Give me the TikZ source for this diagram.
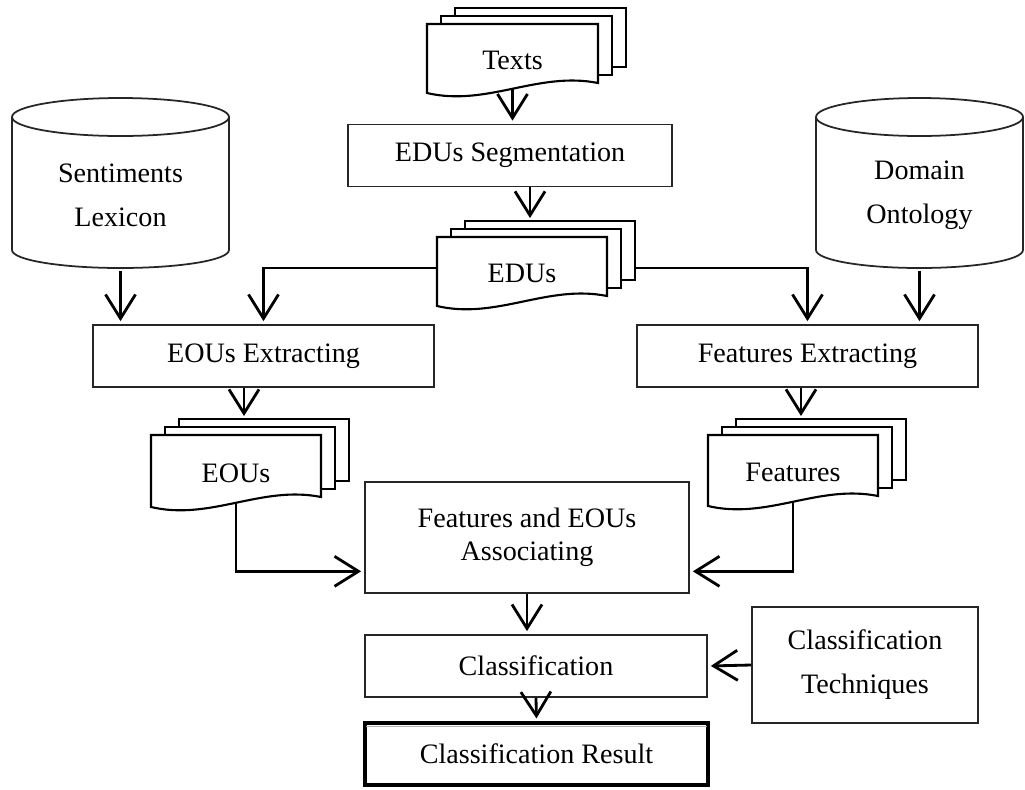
\documentclass[tikz,border=0pt]{standalone}
\usepackage{fontspec}
\setmainfont{Liberation Serif}
\usetikzlibrary{arrows.meta, calc}
\tikzset{
	box/.style      ={rectangle, draw=black!85, line width=1pt, fill=white, align=center, inner sep=2pt},
	resultbox/.style={box, draw=black, line width=1.8pt},
	sheet/.style    ={draw=black, line width=1.2pt, fill=white},
	dbline/.style   ={draw=black!85, line width=1pt, fill=white},
	doctext/.style  ={inner sep=0pt, align=center},
	flow/.style     ={-{Straight Barb[length=4.8mm, width=6mm]}, line width=1.6pt, shorten >=0.6mm},
}
% stack of three sheets: name, left, top, right, bottom, text
\newcommand{\docstack}[6]{%
	\draw[sheet] ({#2+28},{#3-16}) rectangle ({#4+28},{#5-26});
	\draw[sheet] ({#2+14},{#3-8}) rectangle ({#4+14},{#5-18});
	\draw[sheet] (#2,#3) -- (#4,#3) -- (#4,{#5-10})
		.. controls ({#4-0.35*(#4-#2)},{#5-22}) and ({#2+0.35*(#4-#2)},{#5+14}) .. (#2,#5) -- cycle;
	\node[doctext] (#1) at ({(#2+#4)/2},{(#3+#5)/2+2}) {#6};
	\coordinate (#1-top) at ({(#2+#4)/2+8},{#3-16});
	\coordinate (#1-bot) at ({(#2+#4)/2},{#5-4});
	\coordinate (#1-left) at (#2,{#3+31});
	\coordinate (#1-right) at ({#4+28},{#3+31});
}
% upright cylinder: name, left, right, text
\newcommand{\database}[4]{%
	\draw[dbline] (#2,117) -- (#2,250)
		.. controls (#2,260) and ({(#2+#3)/2-0.275*(#3-#2)},268) .. ({(#2+#3)/2},268)
		.. controls ({(#2+#3)/2+0.275*(#3-#2)},268) and (#3,260) .. (#3,250) -- (#3,117)
		.. controls (#3,106.5) and ({(#2+#3)/2+0.275*(#3-#2)},98) .. ({(#2+#3)/2},98)
		.. controls ({(#2+#3)/2-0.275*(#3-#2)},98) and (#2,106.5) .. (#2,117) -- cycle;
	\draw[dbline, fill=none] (#2,117)
		.. controls (#2,127.5) and ({(#2+#3)/2-0.275*(#3-#2)},136) .. ({(#2+#3)/2},136)
		.. controls ({(#2+#3)/2+0.275*(#3-#2)},136) and (#3,127.5) .. (#3,117);
	\node[doctext, minimum height=3.02cm] (#1) at ({(#2+#3)/2},195) {#4};
}

\begin{document}
\begin{tikzpicture}[x=0.02cm, y=-0.02cm, font=\fontsize{16}{19}\selectfont]
	\useasboundingbox (0,0) rectangle (1025,789);
	% stores
	\database{lexicon}{12}{229}{Sentiments\\[6pt]Lexicon}
	\database{ontology}{816}{1023}{Domain\\[6pt]Ontology}
	% document stacks
	\docstack{texts}{427}{24}{598}{93}{Texts}
	\docstack{edus}{437}{237}{607}{306}{EDUs}
	\docstack{eous}{151}{435}{321}{507}{EOUs}
	\docstack{features}{708}{435}{878}{506}{Features}
	% process boxes
	\node[box, minimum width=6.48cm, minimum height=1.24cm] (seg) at (510,155.5) {EDUs Segmentation};
	\node[box, minimum width=6.82cm, minimum height=1.24cm] (eouext) at (263.5,356) {EOUs Extracting};
	\node[box, minimum width=6.82cm, minimum height=1.24cm] (featext) at (807.5,356) {Features Extracting};
	\node[box, minimum width=6.48cm, minimum height=2.22cm] (assoc) at (527,537.5) {Features and EOUs\\Associating};
	\node[box, minimum width=6.84cm, minimum height=1.24cm] (classif) at (536,666) {Classification};
	\node[box, minimum width=4.52cm, minimum height=2.32cm] (techniques) at (865,665) {Classification\\[6pt]Techniques};
	\node[resultbox, minimum width=6.86cm, minimum height=1.24cm] (result) at (536.5,754) {Classification Result};
	\draw[gray!60, line width=0.8pt] ($(result.north west)+(3,5)$) -- ($(result.north east)+(-3,5)$);
	% connectors
	\draw[flow] (texts-bot) -- (texts-bot |- seg.north);
	\draw[flow] (seg.south -| edus-top) -- (edus-top);
	\draw[flow] (edus-left) -| (eouext.north);
	\draw[flow] (edus-right) -| (featext.north);
	\draw[flow] (lexicon.south) -- (lexicon.south |- eouext.north);
	\draw[flow] (ontology.south) -- (ontology.south |- featext.north);
	\draw[flow] (eouext.south -| eous-top) -- (eous-top);
	\draw[flow] (featext.south -| features-top) -- (features-top);
	\draw[flow] (eous-bot) |- ($(assoc.south west)!0.2!(assoc.north west)$);
	\draw[flow] (features-bot) |- ($(assoc.south east)!0.2!(assoc.north east)$);
	\draw[flow] (assoc.south) -- (assoc.south |- classif.north);
	\draw[flow] (techniques.west) -- (classif.east);
	\draw[flow] (classif.south) -- (result.north);
\end{tikzpicture}
\end{document}
